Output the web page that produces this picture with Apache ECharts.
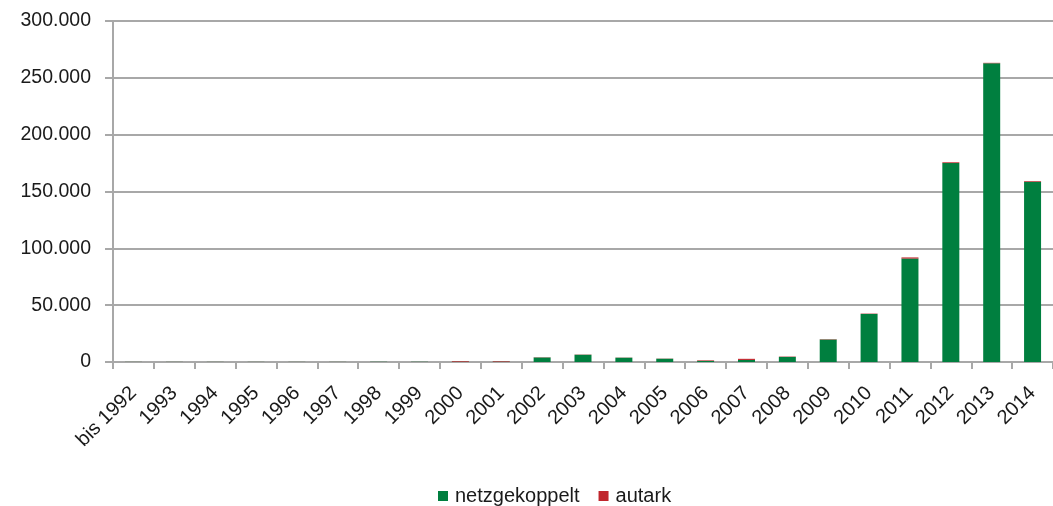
<!DOCTYPE html>
<html>
<head>
<meta charset="utf-8">
<script src="https://cdn.jsdelivr.net/npm/echarts@6/dist/echarts.min.js"></script>
<style>
  html, body { margin: 0; padding: 0; background: #fff; }
  #chart { width: 1053px; height: 506px; }
</style>
</head>
<body>
<div id="chart"></div>
<script>
// Jährlich neu installierte PV-Anlagen (Anzahl)
const years = ['bis 1992', '1993', '1994', '1995', '1996', '1997', '1998', '1999', '2000', '2001',
  '2002', '2003', '2004', '2005', '2006', '2007', '2008', '2009', '2010', '2011', '2012', '2013', '2014'];
const netzgekoppelt = [100, 100, 100, 100, 100, 100, 200, 200, 300, 300,
  4000, 6400, 3800, 2900, 1000, 1800, 4500, 19800, 42300, 91000, 175000, 262800, 158600];
const autark = [50, 50, 50, 50, 50, 50, 50, 50, 600, 500,
  200, 200, 150, 150, 500, 1000, 300, 300, 300, 1000, 700, 400, 600];
const yTicks = [0, 50000, 100000, 150000, 200000, 250000, 300000];

const fmt = v => String(v).replace(/\B(?=(\d{3})+(?!\d))/g, '.');
const FONT = 'Liberation Sans, Arial, sans-serif';

const chart = echarts.init(document.getElementById('chart'));
chart.setOption({
  animation: false,
  textStyle: { fontFamily: FONT },
  grid: { left: 113, right: -7, top: 21, bottom: 144, containLabel: false },
  legend: {
    top: 481,
    left: 433,
    icon: 'rect',
    itemWidth: 10,
    itemHeight: 10,
    itemGap: 19,
    textStyle: { fontSize: 20, color: '#1a1a1a', fontFamily: FONT, padding: [0, 0, 0, 2] },
    data: ['netzgekoppelt', 'autark']
  },
  xAxis: {
    type: 'category',
    data: years,
    axisLine: { lineStyle: { color: '#a8a8a8', width: 2 } },
    axisTick: { show: true, inside: false, length: 7, lineStyle: { color: '#a8a8a8', width: 2 } },
    axisLabel: { rotate: 45, fontSize: 20, color: '#1a1a1a', margin: 28, interval: 0 }
  },
  yAxis: {
    type: 'value',
    min: yTicks[0],
    max: yTicks[yTicks.length - 1],
    interval: yTicks[1] - yTicks[0],
    axisLine: { show: true, lineStyle: { color: '#a8a8a8', width: 2 } },
    axisTick: { show: true, length: 8, lineStyle: { color: '#a8a8a8', width: 2 } },
    splitLine: { lineStyle: { color: '#a8a8a8', width: 2 } },
    axisLabel: { fontSize: 19.5, color: '#1a1a1a', margin: 22, formatter: v => fmt(v) }
  },
  series: [
    {
      name: 'netzgekoppelt',
      type: 'bar',
      stack: 'total',
      barWidth: 17,
      itemStyle: { color: '#007f3f' },
      data: netzgekoppelt
    },
    {
      name: 'autark',
      type: 'bar',
      stack: 'total',
      barWidth: 17,
      itemStyle: { color: '#c0262d' },
      data: autark
    }
  ]
});
</script>
</body>
</html>
